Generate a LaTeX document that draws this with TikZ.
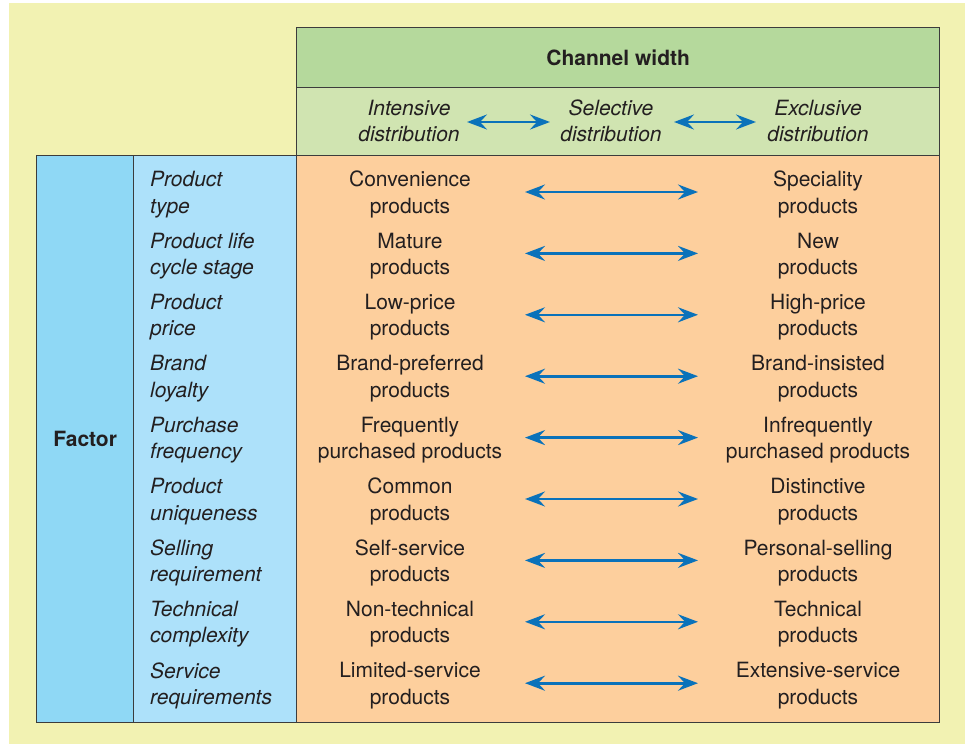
\documentclass[tikz,border=0pt]{standalone}
\usepackage{fontspec}
\setmainfont{TeX Gyre Heros}
\usetikzlibrary{arrows.meta}
\definecolor{bgyellow}{RGB}{242,242,178}
\definecolor{hdrgreen}{RGB}{181,217,156}
\definecolor{subgreen}{RGB}{208,228,177}
\definecolor{bodyorange}{RGB}{253,207,157}
\definecolor{darkblue}{RGB}{143,216,245}
\definecolor{lightblue}{RGB}{173,225,250}
\definecolor{arrowblue}{RGB}{10,114,186}
\definecolor{edge}{RGB}{60,60,60}
\definecolor{ink}{RGB}{35,31,32}
\begin{document}
\begin{tikzpicture}[x=1bp,y=-1bp,
  cell/.style={draw=edge,line width=1.3bp,inner sep=0pt,anchor=north west,text=ink,
    font=\fontsize{21bp}{26.5bp}\selectfont},
  txt/.style={font=\fontsize{21bp}{26.5bp}\selectfont,text=ink,align=center,inner sep=0pt},
  fac/.style={txt,align=left,anchor=west,font=\fontsize{21bp}{26.5bp}\selectfont\itshape},
  dbl/.style={draw=arrowblue,line width=2.6bp,
    {Stealth[length=20bp,width=15bp,inset=7bp]}-{Stealth[length=20bp,width=15bp,inset=7bp]}}
]
\useasboundingbox (0,0) rectangle (965,744);
\fill[white] (0,0) rectangle (965,744);
\fill[bgyellow] (9,3) rectangle (965,744);

% header
\node[cell,fill=hdrgreen,minimum width=643bp,minimum height=60bp] (hdr) at (296,27) {\bfseries Channel width};
\node[cell,fill=subgreen,minimum width=643bp,minimum height=68bp] (sub) at (296,87) {};
% body
\node[cell,fill=bodyorange,minimum width=643bp,minimum height=567bp] (body) at (296,155) {};
\node[cell,fill=darkblue,minimum width=97bp,minimum height=567bp] (factor) at (36,155) {\bfseries Factor};
\node[cell,fill=lightblue,minimum width=163bp,minimum height=567bp] (factors) at (133,155) {};

% sub-header labels
\node[txt,font=\fontsize{21bp}{26.5bp}\selectfont\itshape] (intensive) at (409,121) {Intensive\\distribution};
\node[txt,font=\fontsize{21bp}{26.5bp}\selectfont\itshape] (selective) at (611,121) {Selective\\distribution};
\node[txt,font=\fontsize{21bp}{26.5bp}\selectfont\itshape] (exclusive) at (818,121) {Exclusive\\distribution};
\coordinate (h1a) at (467,122);
\coordinate (h1b) at (550,122);
\coordinate (h2a) at (674,122);
\coordinate (h2b) at (756,122);
\draw[dbl] (h1a) -- (h1b);
\draw[dbl] (h2a) -- (h2b);

% rows
\foreach \i/\f/\l/\r in {
  1/{Product\\type}/{Convenience\\products}/{Speciality\\products},
  2/{Product life\\cycle stage}/{Mature\\products}/{New\\products},
  3/{Product\\price}/{Low-price\\products}/{High-price\\products},
  4/{Brand\\loyalty}/{Brand-preferred\\products}/{Brand-insisted\\products},
  5/{Purchase\\frequency}/{Frequently\\purchased products}/{Infrequently\\purchased products},
  6/{Product\\uniqueness}/{Common\\products}/{Distinctive\\products},
  7/{Selling\\requirement}/{Self-service\\products}/{Personal-selling\\products},
  8/{Technical\\complexity}/{Non-technical\\products}/{Technical\\products},
  9/{Service\\requirements}/{Limited-service\\products}/{Extensive-service\\products}}
{
  \pgfmathsetmacro{\yy}{192+61.4*(\i-1)}
  \pgfmathsetmacro{\ty}{\yy+2.5}
  \node[fac] (f\i) at (150,\ty) {\f};
  \node[txt] (l\i) at (410,\ty) {\l};
  \node[txt] (r\i) at (818,\ty) {\r};
  \coordinate (a\i) at (525,\yy);
  \coordinate (b\i) at (698,\yy);
  \draw[dbl] (a\i) -- (b\i);
}
\end{tikzpicture}
\end{document}
